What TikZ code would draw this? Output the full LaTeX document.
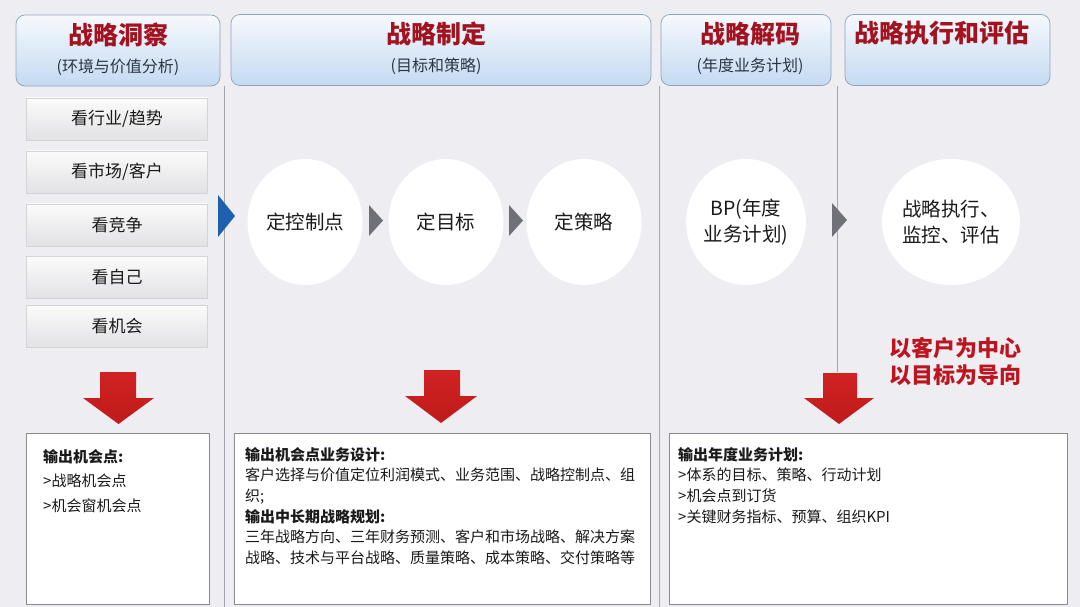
\documentclass[tikz,border=0pt]{standalone}
\usepackage{fontspec}
\setmainfont{Noto Sans CJK SC}
\usetikzlibrary{shapes.geometric}
\definecolor{bg}{HTML}{EEEEF2}
\definecolor{hdrtop}{HTML}{F6F9FD}
\definecolor{hdrbot}{HTML}{C4DAF1}
\definecolor{hdrline}{HTML}{8EA3BA}
\definecolor{titlered}{HTML}{A3121F}
\definecolor{subtxt}{HTML}{2A3646}
\definecolor{sepline}{HTML}{A4A4AC}
\definecolor{itemtop}{HTML}{FBFBFB}
\definecolor{itembot}{HTML}{E2E2E5}
\definecolor{itemline}{HTML}{D4D4D8}
\definecolor{arrowblue}{HTML}{1F5FB0}
\definecolor{arrowgray}{HTML}{707078}
\definecolor{arrowred}{HTML}{D02222}
\definecolor{arrowreddark}{HTML}{C01A1A}
\definecolor{mottored}{HTML}{BE1420}
\definecolor{bodytxt}{HTML}{1A1A1A}
\definecolor{boxline}{HTML}{8A8A8E}
\begin{document}
\begin{tikzpicture}[x=1pt,y=-1pt,
  hdr/.style={rectangle, rounded corners=9pt, top color=hdrtop, bottom color=hdrbot, draw=hdrline, line width=0.7pt, minimum height=71pt, inner sep=0pt},
  titletxt/.style={text=titlered, font=\fontsize{25}{30}\selectfont\bfseries, inner sep=0pt},
  subtxt/.style={text=subtxt, font=\fontsize{16}{20}\selectfont, inner sep=0pt},
  sepl/.style={draw=sepline, line width=0.8pt},
  itembox/.style={rectangle, top color=itemtop, bottom color=itembot, draw=itemline, line width=0.5pt, minimum width=181pt, minimum height=42pt, inner sep=0pt, text=bodytxt, font=\fontsize{17}{20}\selectfont},
  circ/.style={ellipse, fill=white, minimum width=115pt, minimum height=126pt, inner sep=0pt, text=bodytxt, align=center, font=\fontsize{19.5}{26}\selectfont},
  redarrow/.style={top color=arrowred, bottom color=arrowreddark, draw=none},
  outbox/.style={rectangle, fill=white, draw=boxline, line width=0.7pt, inner sep=0pt},
  outtxt/.style={anchor=north west, inner sep=0pt, align=left, text=bodytxt, font=\fontsize{15}{20.7}\selectfont},
  motto/.style={text=mottored, font=\fontsize{22}{27}\selectfont\bfseries, align=left, inner sep=0pt}
]
\fill[bg] (0,0) rectangle (1080,607);
\useasboundingbox (0,0) rectangle (1080,607);

% separators
\draw[sepl] (224,86) -- (224,607);
\draw[sepl] (659,86) -- (659,607);
\draw[sepl] (837,86) -- (837,372);

% headers
\node[hdr, minimum width=204pt] (h1) at (118,50.5) {};
\node[hdr, minimum width=420pt] (h2) at (441,50) {};
\node[hdr, minimum width=170pt] (h3) at (746,50) {};
\node[hdr, minimum width=205pt] (h4) at (947.5,50) {};
\node[titletxt] (t1) at (118,35) {战略洞察};
\node[subtxt] (s1) at (118,67) {(环境与价值分析)};
\node[titletxt] (t2) at (436,34) {战略制定};
\node[subtxt] (s2) at (436,66) {(目标和策略)};
\node[titletxt] (t3) at (750,34) {战略解码};
\node[subtxt] (s3) at (750,66) {(年度业务计划)};
\node[titletxt] (t4) at (942,33) {战略执行和评估};

% left items
\node[itembox] (i1) at (117,119) {看行业/趋势};
\node[itembox] (i2) at (117,172) {看市场/客户};
\node[itembox] (i3) at (117,225) {看竞争};
\node[itembox] (i4) at (117,277) {看自己};
\node[itembox] (i5) at (117,326) {看机会};

% blue triangle
\fill[arrowblue] (218,195) -- (235,216) -- (218,237) -- cycle;

% circles
\node[circ] (c1) at (305,222) {定控制点};
\node[circ] (c2) at (446,222) {定目标};
\node[circ] (c3) at (584,222) {定策略};
\node[circ] (c4) at (746,222) {BP(年度\\业务计划)};
\node[circ] (c5) at (951,222) {战略执行、\\监控、评估};

% gray triangles
\fill[arrowgray] (369,205) -- (383,220.5) -- (369,236) -- cycle;
\fill[arrowgray] (509,205) -- (523,220.5) -- (509,236) -- cycle;
\fill[arrowgray] (832,203) -- (847,220) -- (832,237) -- cycle;

% motto
\node[motto] (m) at (955,362) {以客户为中心\\以目标为导向};

% red arrows
\path[redarrow] (100,372) -- (136,372) -- (136,398) -- (154,398) -- (118.5,424) -- (83,398) -- (100,398) -- cycle;
\path[redarrow] (424,370) -- (460,370) -- (460,396) -- (477,396) -- (441,423) -- (405,396) -- (424,396) -- cycle;
\path[redarrow] (823,373) -- (857,373) -- (857,398) -- (874,398) -- (839,424) -- (804,398) -- (823,398) -- cycle;

% output boxes
\node[outbox, minimum width=182.5pt, minimum height=171pt] (b1) at (117.75,518.5) {};
\node[outbox, minimum width=416pt, minimum height=171pt] (b2) at (442,518.5) {};
\node[outbox, minimum width=398pt, minimum height=171pt] (b3) at (868,518.5) {};

\node[outtxt, font=\fontsize{15}{24.5}\selectfont] (o1) at (43,449) {\textbf{输出机会点:}\\>战略机会点\\>机会窗机会点};
\node[outtxt] (o2) at (245,447) {\textbf{输出机会点业务设计:}\\客户选择与价值定位利润模式、业务范围、战略控制点、组\\织;\\\textbf{输出中长期战略规划:}\\三年战略方向、三年财务预测、客户和市场战略、解决方案\\战略、技术与平台战略、质量策略、成本策略、交付策略等};
\node[outtxt] (o3) at (678,447) {\textbf{输出年度业务计划:}\\>体系的目标、策略、行动计划\\>机会点到订货\\>关键财务指标、预算、组织KPI};
\end{tikzpicture}
\end{document}
